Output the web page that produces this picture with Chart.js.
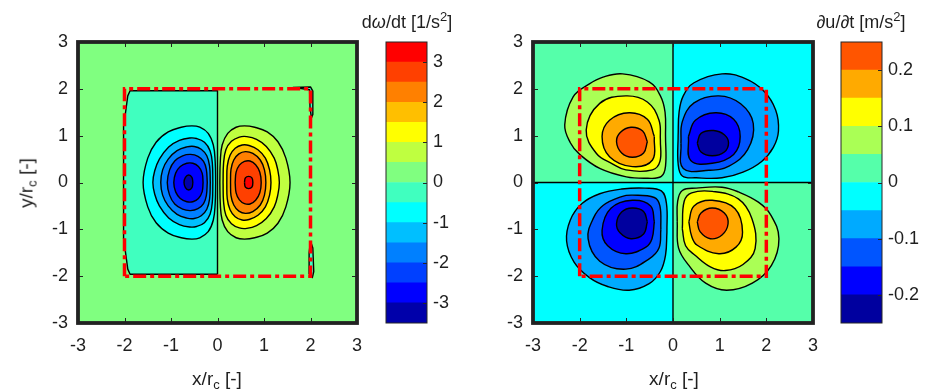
<!DOCTYPE html>
<html>
<head>
<meta charset="utf-8">
<script src="https://cdn.jsdelivr.net/npm/chart.js@4.4.1/dist/chart.umd.min.js"></script>
<style>
html,body{margin:0;padding:0;background:#fff;}
#wrap{position:relative;width:935px;height:390px;overflow:hidden;font-family:'Liberation Sans',Arial,Helvetica,sans-serif;color:#1f1f1f;}
canvas{position:absolute;top:0;}
.lbl{position:absolute;font-size:19px;line-height:1;white-space:nowrap;z-index:3;}
.lbl sub{font-size:13px;vertical-align:-0.3em;line-height:0;}
.lbl sup{font-size:13px;vertical-align:0.55em;line-height:0;}
.cbt{font-size:18px;}
</style>
</head>
<body>
<div id="wrap">
  <canvas id="plotL" width="375" height="390" style="left:0px"></canvas>
  <canvas id="barL" width="80" height="390" style="left:376px"></canvas>
  <canvas id="plotR" width="375" height="390" style="left:455px"></canvas>
  <canvas id="barR" width="104" height="390" style="left:831px"></canvas>
  <div class="lbl" style="left:26px;top:183px;transform:translate(-50%,-50%) rotate(-90deg);">y/r<sub>c</sub> [-]</div>
  <div class="lbl" style="left:217px;top:369px;transform:translateX(-50%);">x/r<sub>c</sub> [-]</div>
  <div class="lbl" style="left:674px;top:369px;transform:translateX(-50%);">x/r<sub>c</sub> [-]</div>
  <div class="lbl cbt" style="left:407px;top:13px;transform:translateX(-50%);">d<i>ω</i>/dt [1/s<sup>2</sup>]</div>
  <div class="lbl cbt" style="left:861px;top:13px;transform:translateX(-50%);"><i>∂</i>u/<i>∂</i>t [m/s<sup>2</sup>]</div>
</div>
<script>
// ---------------- DATA ----------------
// axis ticks (both panels)
const axisTicks = [-3, -2, -1, 0, 1, 2, 3];
// dashed evaluation box (x/rc, y/rc)
const boxX = [-2, -2, 2, 2, -2];
const boxY = [-2, 2, 2, -2, -2];

// Left panel: dω/dt [1/s²]  — contour levels and colorbar ticks
const omegaLevels = [-3.5, -3, -2.5, -2, -1.5, -1, -0.5, 0, 0.5, 1, 1.5, 2, 2.5, 3, 3.5];
const omegaTicks = [-3, -2, -1, 0, 1, 2, 3];
// regions: band = lower edge of the filled colour band
const omegaBackground = [
  { band: 0, pts: [[-3,-3],[-3,3],[3,3],[3,-3],[-3,-3]] }
];
const omegaInnerPatches = [
  { band: -0.5, pts: [[0,-1.96],[0,1.96],[-1.88,1.96],[-1.93,1.85],[-1.97,1.55],[-2.02,1.2],[-2.02,-1.2],[-1.97,-1.55],[-1.93,-1.85],[-1.88,-1.96],[0,-1.96]] },
  { band: -0.5, pts: [[1.62,2.03],[2.0,2.04],[2.05,1.95],[2.05,1.45],[2.02,1.38],[1.99,1.6],[1.98,1.98],[1.62,2.03]] },
  { band: -0.5, pts: [[2.0,-1.25],[2.05,-1.4],[2.07,-1.9],[2.04,-2.03],[1.98,-1.95],[1.97,-1.5],[2.0,-1.25]] }
];
const omegaNegLobe = [
  { band: -1.0, pts: [[-0.04,0],[-0.05,0.45],[-0.09,0.8],[-0.2,1.05],[-0.38,1.18],[-0.55,1.21],[-0.78,1.18],[-1.06,1.08],[-1.32,0.86],[-1.5,0.52],[-1.6,0],[-1.5,-0.52],[-1.32,-0.86],[-1.06,-1.08],[-0.78,-1.18],[-0.55,-1.21],[-0.38,-1.18],[-0.2,-1.05],[-0.09,-0.8],[-0.05,-0.45],[-0.04,0]] },
  { band: -1.5, pts: [[-0.10,0],[-0.11,0.4],[-0.16,0.68],[-0.28,0.86],[-0.45,0.94],[-0.6,0.95],[-0.82,0.9],[-1.05,0.76],[-1.25,0.5],[-1.35,0.25],[-1.39,0],[-1.35,-0.25],[-1.25,-0.5],[-1.05,-0.76],[-0.82,-0.9],[-0.6,-0.95],[-0.45,-0.94],[-0.28,-0.86],[-0.16,-0.68],[-0.11,-0.4],[-0.10,0]] },
  { band: -2.0, pts: [[-0.155,0],[-0.17,0.35],[-0.23,0.57],[-0.35,0.71],[-0.5,0.77],[-0.66,0.76],[-0.87,0.68],[-1.06,0.5],[-1.18,0.27],[-1.22,0],[-1.18,-0.27],[-1.06,-0.5],[-0.87,-0.68],[-0.66,-0.76],[-0.5,-0.77],[-0.35,-0.71],[-0.23,-0.57],[-0.17,-0.35],[-0.155,0]] },
  { band: -2.5, pts: [[-0.22,0],[-0.24,0.28],[-0.3,0.45],[-0.42,0.56],[-0.58,0.6],[-0.75,0.57],[-0.92,0.46],[-1.03,0.27],[-1.08,0],[-1.03,-0.27],[-0.92,-0.46],[-0.75,-0.57],[-0.58,-0.6],[-0.42,-0.56],[-0.3,-0.45],[-0.24,-0.28],[-0.22,0]] },
  { band: -3.0, pts: [[-0.31,0],[-0.33,0.2],[-0.41,0.34],[-0.53,0.41],[-0.66,0.41],[-0.8,0.34],[-0.9,0.2],[-0.94,0],[-0.9,-0.2],[-0.8,-0.34],[-0.66,-0.41],[-0.53,-0.41],[-0.41,-0.34],[-0.33,-0.2],[-0.31,0]] },
  { band: -3.5, pts: [[-0.53,0],[-0.55,0.11],[-0.62,0.16],[-0.69,0.11],[-0.72,0],[-0.69,-0.11],[-0.62,-0.16],[-0.55,-0.11],[-0.53,0]] }
];
const omegaPosLobe = [
  { band: 0.5, pts: [[0.05,0],[0.06,0.45],[0.1,0.8],[0.22,1.05],[0.4,1.18],[0.58,1.21],[0.8,1.18],[1.07,1.08],[1.3,0.87],[1.47,0.52],[1.56,0],[1.47,-0.52],[1.3,-0.87],[1.07,-1.08],[0.8,-1.18],[0.58,-1.21],[0.4,-1.18],[0.22,-1.05],[0.1,-0.8],[0.06,-0.45],[0.05,0]] },
  { band: 1.0, pts: [[0.12,0],[0.13,0.4],[0.18,0.7],[0.3,0.88],[0.47,0.97],[0.63,0.98],[0.84,0.92],[1.05,0.77],[1.22,0.52],[1.3,0.25],[1.33,0],[1.3,-0.25],[1.22,-0.52],[1.05,-0.77],[0.84,-0.92],[0.63,-0.98],[0.47,-0.97],[0.3,-0.88],[0.18,-0.7],[0.13,-0.4],[0.12,0]] },
  { band: 1.5, pts: [[0.2,0],[0.21,0.35],[0.27,0.58],[0.38,0.73],[0.53,0.8],[0.68,0.79],[0.87,0.7],[1.03,0.52],[1.12,0.27],[1.15,0],[1.12,-0.27],[1.03,-0.52],[0.87,-0.7],[0.68,-0.79],[0.53,-0.8],[0.38,-0.73],[0.27,-0.58],[0.21,-0.35],[0.2,0]] },
  { band: 2.0, pts: [[0.28,0],[0.29,0.28],[0.35,0.48],[0.46,0.61],[0.6,0.66],[0.76,0.62],[0.92,0.48],[1.01,0.27],[1.04,0],[1.01,-0.27],[0.92,-0.48],[0.76,-0.62],[0.6,-0.66],[0.46,-0.61],[0.35,-0.48],[0.29,-0.28],[0.28,0]] },
  { band: 2.5, pts: [[0.38,0],[0.4,0.22],[0.47,0.37],[0.58,0.45],[0.7,0.46],[0.82,0.38],[0.91,0.22],[0.94,0],[0.91,-0.22],[0.82,-0.38],[0.7,-0.46],[0.58,-0.45],[0.47,-0.37],[0.4,-0.22],[0.38,0]] },
  { band: 3.0, pts: [[0.58,0],[0.6,0.1],[0.67,0.13],[0.74,0.1],[0.76,0],[0.74,-0.1],[0.67,-0.13],[0.6,-0.1],[0.58,0]] }
];

// Right panel: ∂u/∂t [m/s²]
const uLevels = [-0.25, -0.2, -0.15, -0.1, -0.05, 0, 0.05, 0.1, 0.15, 0.2, 0.25];
const uTicks = [-0.2, -0.1, 0, 0.1, 0.2];
const uQuadrants = [
  { band: 0, pts: [[-3,0],[-3,3],[0,3],[0,0],[-3,0]] },
  { band: -0.05, pts: [[0,0],[0,3],[3,3],[3,0],[0,0]] },
  { band: -0.05, pts: [[-3,-3],[-3,0],[0,0],[0,-3],[-3,-3]] },
  { band: 0, pts: [[0,-3],[0,0],[3,0],[3,-3],[0,-3]] }
];
const uZeroLines = [
  [[-3,0],[3,0]],
  [[0,-3],[0,3]]
];
const uLobeTL = [
  { band: 0.05, pts: [[-0.16,0.98],[-0.17,1.5],[-0.27,1.85],[-0.51,2.15],[-1.08,2.32],[-1.5,2.25],[-1.8,2.1],[-2.14,1.83],[-2.32,1.23],[-2.2,0.85],[-2.0,0.6],[-1.57,0.3],[-1.0,0.12],[-0.55,0.09],[-0.25,0.13],[-0.16,0.35],[-0.16,0.98]] },
  { band: 0.1, pts: [[-0.27,0.9],[-0.3,1.33],[-0.55,1.72],[-1.01,1.85],[-1.57,1.69],[-1.86,1.12],[-1.64,0.62],[-1.3,0.4],[-1.01,0.27],[-0.44,0.27],[-0.28,0.45],[-0.27,0.9]] },
  { band: 0.15, pts: [[-0.4,0.98],[-0.55,1.35],[-0.94,1.49],[-1.36,1.33],[-1.52,0.98],[-1.36,0.55],[-0.87,0.34],[-0.44,0.48],[-0.4,0.98]] },
  { band: 0.2, pts: [[-0.55,0.87],[-0.65,1.1],[-0.9,1.18],[-1.13,1.07],[-1.21,0.87],[-1.1,0.63],[-0.87,0.54],[-0.63,0.63],[-0.55,0.87]] }
];
const uLobeTR = [
  { band: -0.1, pts: [[0.11,1.0],[0.13,1.5],[0.22,1.85],[0.45,2.13],[1.05,2.32],[1.55,2.22],[1.95,1.95],[2.2,1.55],[2.26,1.1],[2.15,0.75],[1.9,0.45],[1.5,0.22],[1.05,0.1],[0.5,0.1],[0.2,0.14],[0.11,0.4],[0.11,1.0]] },
  { band: -0.15, pts: [[0.17,0.84],[0.2,1.3],[0.45,1.7],[0.98,1.85],[1.45,1.68],[1.72,1.26],[1.6,0.7],[1.2,0.35],[0.77,0.26],[0.22,0.3],[0.17,0.84]] },
  { band: -0.2, pts: [[0.33,0.98],[0.48,1.33],[0.91,1.49],[1.3,1.35],[1.44,0.98],[1.3,0.6],[0.84,0.41],[0.38,0.47],[0.33,0.98]] },
  { band: -0.25, pts: [[0.52,0.84],[0.6,1.05],[0.87,1.11],[1.1,1.02],[1.19,0.85],[1.1,0.65],[0.84,0.57],[0.6,0.65],[0.52,0.84]] }
];
const uLobeBL = [
  { band: -0.1, pts: [[-0.13,-1.06],[-0.16,-1.55],[-0.27,-1.9],[-0.51,-2.16],[-0.94,-2.3],[-1.4,-2.22],[-1.79,-2.03],[-2.12,-1.7],[-2.28,-1.25],[-2.2,-0.8],[-1.95,-0.45],[-1.57,-0.24],[-1.1,-0.14],[-0.6,-0.12],[-0.25,-0.18],[-0.14,-0.45],[-0.13,-1.06]] },
  { band: -0.15, pts: [[-0.26,-1.0],[-0.3,-1.4],[-0.51,-1.63],[-1.01,-1.85],[-1.57,-1.68],[-1.82,-1.2],[-1.7,-0.75],[-1.5,-0.49],[-1.1,-0.3],[-0.87,-0.27],[-0.4,-0.32],[-0.28,-0.5],[-0.26,-1.0]] },
  { band: -0.2, pts: [[-0.4,-0.84],[-0.45,-1.2],[-0.58,-1.38],[-1.01,-1.52],[-1.4,-1.35],[-1.52,-1.02],[-1.33,-0.55],[-0.87,-0.38],[-0.48,-0.5],[-0.4,-0.84]] },
  { band: -0.25, pts: [[-0.55,-0.84],[-0.63,-1.1],[-0.9,-1.2],[-1.13,-1.08],[-1.21,-0.88],[-1.1,-0.63],[-0.87,-0.545],[-0.63,-0.62],[-0.55,-0.84]] }
];
const uLobeBR = [
  { band: 0.05, pts: [[0.09,-0.84],[0.12,-1.4],[0.34,-1.77],[0.7,-2.15],[1.15,-2.3],[1.7,-2.15],[2.11,-1.77],[2.27,-1.2],[2.1,-0.7],[1.83,-0.42],[1.4,-0.2],[1.05,-0.1],[0.5,-0.12],[0.2,-0.17],[0.1,-0.4],[0.09,-0.84]] },
  { band: 0.1, pts: [[0.2,-0.99],[0.27,-1.35],[0.48,-1.56],[0.8,-1.8],[1.12,-1.88],[1.5,-1.75],[1.76,-1.41],[1.69,-0.77],[1.4,-0.35],[0.84,-0.19],[0.4,-0.22],[0.24,-0.4],[0.2,-0.99]] },
  { band: 0.15, pts: [[0.34,-0.84],[0.4,-1.15],[0.52,-1.34],[0.98,-1.52],[1.35,-1.38],[1.49,-1.06],[1.33,-0.56],[0.84,-0.38],[0.45,-0.5],[0.34,-0.84]] },
  { band: 0.2, pts: [[0.52,-0.84],[0.58,-1.05],[0.8,-1.2],[1.05,-1.12],[1.18,-0.88],[1.1,-0.65],[0.84,-0.545],[0.6,-0.65],[0.52,-0.84]] }
];

// ---------------- STYLE ----------------
const omegaColors = ['#0000AA','#0000FF','#0040FF','#0080FF','#00BFFF','#00FFFF','#40FFBF','#80FF80','#BFFF40','#FFFF00','#FFBF00','#FF8000','#FF4000','#FF0000'];
const uColors = ['#00009F','#0000FF','#0055FF','#00AAFF','#00FFFF','#55FFAA','#AAFF55','#FFFF00','#FFAA00','#FF5500'];
const INK = '#1f1f1f';
const FONT = "'Liberation Sans', Arial, Helvetica, sans-serif";
Chart.defaults.font.family = FONT;
Chart.defaults.font.size = 18;
Chart.defaults.color = INK;

const framePlugin = {
  id: 'frame',
  afterDatasetsDraw(chart, args, o) {
    const a = chart.chartArea, ctx = chart.ctx, L = o.tickLen;
    ctx.save();
    ctx.strokeStyle = o.color;
    ctx.lineWidth = 1;
    ctx.beginPath();
    if (o.xTicks) {
      const s = chart.scales.x;
      s.ticks.forEach(t => {
        const p = Math.round(s.getPixelForValue(t.value)) + 0.5;
        ctx.moveTo(p, a.bottom); ctx.lineTo(p, a.bottom - L);
        ctx.moveTo(p, a.top); ctx.lineTo(p, a.top + L);
      });
    }
    const sy = chart.scales.y;
    sy.ticks.forEach(t => {
      const p = Math.round(sy.getPixelForValue(t.value)) + 0.5;
      if (o.yLeft) { ctx.moveTo(a.left, p); ctx.lineTo(a.left + L, p); }
      ctx.moveTo(a.right, p); ctx.lineTo(a.right - L, p);
    });
    ctx.stroke();
    ctx.lineWidth = o.width;
    ctx.strokeRect(a.left, a.top, a.right - a.left, a.bottom - a.top);
    ctx.restore();
  }
};

function regionSets(regions, levels, colors, outline, smooth) {
  return regions.map(r => ({
    data: r.pts.map(p => ({ x: p[0], y: p[1] })),
    fill: 'shape',
    backgroundColor: colors[levels.indexOf(r.band)],
    borderColor: '#000',
    borderWidth: outline ? 1.4 : 0,
    borderJoinStyle: 'round',
    tension: smooth,
    pointRadius: 0
  }));
}
function lineSet(pts, color, width, dash) {
  return {
    data: pts.map(p => ({ x: p[0], y: p[1] })),
    fill: false,
    borderColor: color,
    borderWidth: width,
    borderDash: dash || [],
    tension: 0,
    pointRadius: 0
  };
}

function contourChart(id, datasets, leftPad, rightPad) {
  const n = datasets.length;
  datasets.forEach((d, i) => { d.order = n - i; });
  return new Chart(document.getElementById(id), {
    type: 'line',
    data: { datasets },
    options: {
      responsive: false, animation: false, events: [], devicePixelRatio: 1,
      layout: { padding: { left: leftPad, top: 42, right: rightPad, bottom: 0 } },
      plugins: { legend: { display: false }, tooltip: { enabled: false },
        frame: { color: '#222', width: 3.8, tickLen: 5, xTicks: true, yLeft: true } },
      scales: {
        x: { type: 'linear', min: -3, max: 3,
          afterBuildTicks: s => { s.ticks = axisTicks.map(v => ({ value: v })); },
          ticks: { padding: 12, maxRotation: 0, autoSkip: false, color: INK },
          grid: { display: false, drawTicks: false }, border: { display: false },
          afterFit: s => { s.height = 67; } },
        y: { type: 'linear', min: -3, max: 3,
          afterBuildTicks: s => { s.ticks = axisTicks.map(v => ({ value: v })); },
          ticks: { padding: 10, autoSkip: false, color: INK },
          grid: { display: false, drawTicks: false }, border: { display: false },
          afterFit: s => { s.width = 78; } }
      }
    },
    plugins: [framePlugin]
  });
}

function colorbar(id, levels, colors, ticks, axisWidth) {
  const datasets = colors.map((c, i) => ({
    data: [[levels[i], levels[i + 1]]],
    backgroundColor: c, borderWidth: 0,
    barPercentage: 1, categoryPercentage: 1, grouped: false
  }));
  return new Chart(document.getElementById(id), {
    type: 'bar',
    data: { labels: [''], datasets },
    options: {
      responsive: false, animation: false, events: [], devicePixelRatio: 1,
      layout: { padding: { left: 10, top: 42, right: 0, bottom: 67 } },
      plugins: { legend: { display: false }, tooltip: { enabled: false },
        frame: { color: '#262626', width: 1, tickLen: 4, xTicks: false, yLeft: false } },
      scales: {
        x: { display: false },
        y: { position: 'right', min: levels[0], max: levels[levels.length - 1],
          afterBuildTicks: s => { s.ticks = ticks.map(v => ({ value: v })); },
          ticks: { padding: 6, color: INK, callback: v => String(v) },
          grid: { display: false, drawTicks: false }, border: { display: false },
          afterFit: s => { s.width = axisWidth; } }
      }
    },
    plugins: [framePlugin]
  });
}

// ---------------- BUILD ----------------
const omegaBands = omegaLevels.slice(0, -1);
const uBands = uLevels.slice(0, -1);

const leftSets = [].concat(
  regionSets(omegaBackground, omegaBands, omegaColors, false, 0),
  regionSets(omegaInnerPatches, omegaBands, omegaColors, true, 0),
  regionSets(omegaNegLobe, omegaBands, omegaColors, true, 0.4),
  regionSets(omegaPosLobe, omegaBands, omegaColors, true, 0.4),
  [lineSet(boxX.map((x, i) => [x, boxY[i]]), '#FF0000', 3.5, [13, 4, 4, 4])]
);
contourChart('plotL', leftSets, 0, 18);

const rightSets = [].concat(
  regionSets(uQuadrants, uBands, uColors, false, 0),
  uZeroLines.map(l => lineSet(l, '#000', 1.4)),
  regionSets(uLobeTL, uBands, uColors, true, 0.4),
  regionSets(uLobeTR, uBands, uColors, true, 0.4),
  regionSets(uLobeBL, uBands, uColors, true, 0.4),
  regionSets(uLobeBR, uBands, uColors, true, 0.4),
  [lineSet(boxX.map((x, i) => [x, boxY[i]]), '#FF0000', 3.5, [13, 4, 4, 4])]
);
contourChart('plotR', rightSets, 0, 15);

colorbar('barL', omegaLevels, omegaColors, omegaTicks, 29);
colorbar('barR', uLevels, uColors, uTicks, 53);
</script>
</body>
</html>
